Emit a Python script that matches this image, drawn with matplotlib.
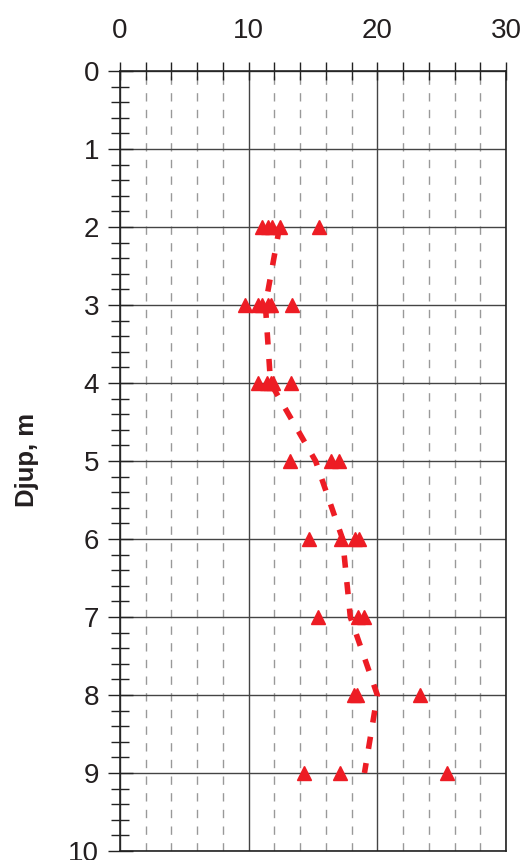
import numpy as np
import matplotlib
matplotlib.use("Agg")
import matplotlib.pyplot as plt
from matplotlib.ticker import MultipleLocator

plt.rcParams['font.family'] = ['Liberation Sans', 'DejaVu Sans']

RED = '#ED1C24'

# measured values per depth level
depth_levels = [2, 3, 4, 5, 6, 7, 8, 9]
values_2 = [11.0, 11.5, 11.8, 12.4, 15.5]
values_3 = [9.7, 10.7, 11.0, 11.5, 11.7, 13.4]
values_4 = [10.7, 11.4, 11.7, 11.9, 13.3]
values_5 = [13.2, 16.4, 17.0]
values_6 = [14.7, 17.2, 18.3, 18.6]
values_7 = [15.4, 18.5, 19.0]
values_8 = [18.2, 18.4, 23.3]
values_9 = [14.3, 17.1, 25.4]
all_values = [values_2, values_3, values_4, values_5,
              values_6, values_7, values_8, values_9]

# profile line (dotted)
line_depth = [2, 3, 4, 5, 6, 7, 8, 9]
line_value = [12.4, 11.3, 11.7, 15.2, 17.3, 17.9, 20.0, 19.0]

fig = plt.figure(figsize=(5.28, 8.6), dpi=100)
ax = fig.add_axes([120/528, 9/860, 386/528, 780/860])

ax.plot(line_value, line_depth, color=RED, lw=4, ls=(0, (2.2, 2.6)),
        zorder=3, dash_capstyle='butt')
for d, vals in zip(depth_levels, all_values):
    ax.plot(vals, [d]*len(vals), ls='none', marker='^', ms=9.5,
            color=RED, mec=RED, zorder=4, clip_on=False)

ax.set_xlim(0, 30)
ax.set_ylim(10, 0)
ax.xaxis.set_major_locator(MultipleLocator(10))
ax.xaxis.set_minor_locator(MultipleLocator(2))
ax.yaxis.set_major_locator(MultipleLocator(1))
ax.yaxis.set_minor_locator(MultipleLocator(0.2))
ax.xaxis.tick_top()
ax.tick_params(axis='x', which='both', direction='inout', length=13,
               width=1, labelsize=20, pad=13, color='#222222')
ax.tick_params(axis='y', which='major', direction='inout', length=18,
               width=1, labelsize=20, pad=6, color='#222222')
ax.tick_params(axis='y', which='minor', direction='inout', length=13,
               width=1, color='#222222')
ax.set_yticks(range(0, 11))
ax.set_yticklabels([str(i) for i in range(0, 10)] + ['10'])
for lab in ax.get_xticklabels() + ax.get_yticklabels():
    lab.set_color('#231F20')

ax.grid(which='major', color='#444444', lw=1, ls='-')
ax.grid(which='minor', axis='x', color='#999999', lw=1, ls=(0, (6, 6)))
ax.set_axisbelow(True)
for s in ax.spines.values():
    s.set_color('#222222')
    s.set_linewidth(1.2)

fig.text(27/528, 1 - 460/860, 'Djup, m', rotation=90, fontsize=18.5,
         fontweight='bold', ha='center', va='center', color='#231F20')

fig.savefig('out.png', dpi=100)
